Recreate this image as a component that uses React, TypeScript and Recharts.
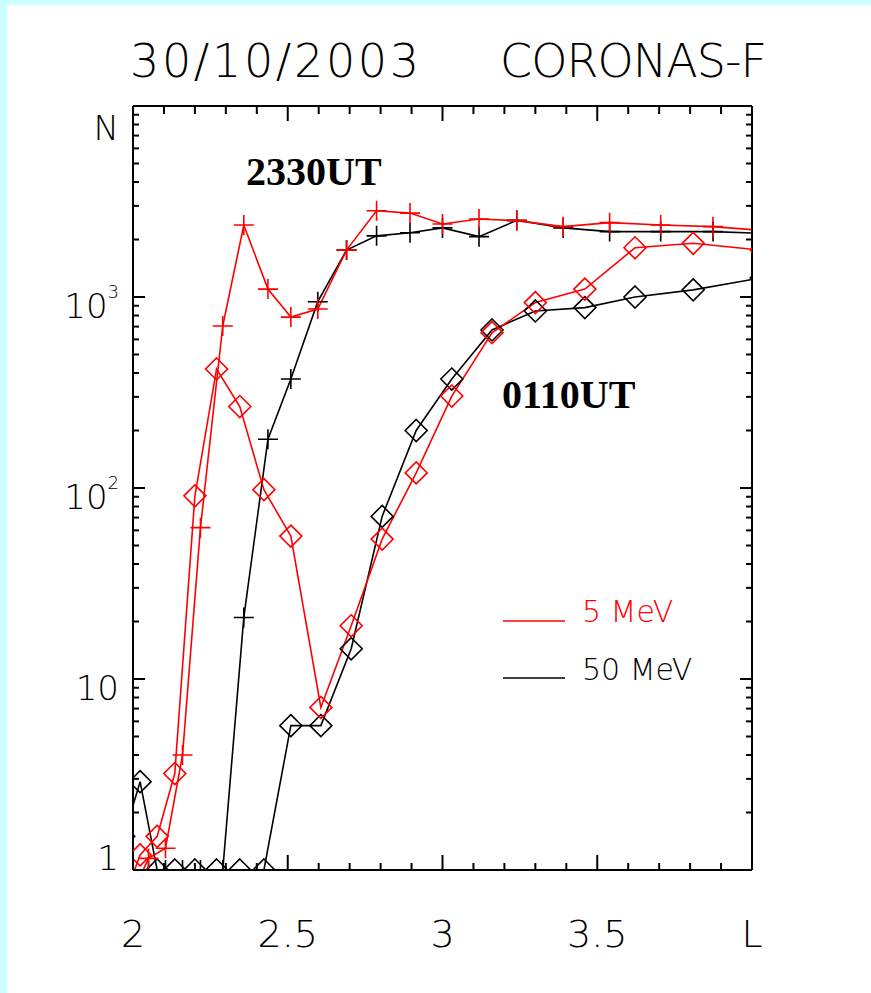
import React from "react";
import { LineChart, Line, XAxis, YAxis } from "recharts";

// L-shell bins for the two passes (plus = 2330UT, diamond = 0110UT)
const PLUS_L = [1.99, 2.05, 2.105, 2.16, 2.218, 2.29, 2.358, 2.436, 2.51, 2.597, 2.69, 2.787, 2.895, 3.0, 3.118, 3.24, 3.39, 3.54, 3.705, 3.874, 4.05];
const DIAMOND_L = [1.97, 2.023, 2.078, 2.135, 2.2, 2.27, 2.345, 2.423, 2.51, 2.607, 2.705, 2.805, 2.915, 3.03, 3.16, 3.3, 3.46, 3.622, 3.81, 4.03];

// counts N (values <= 1 sit on the bottom frame)
const N_5MEV_2330 = [0.7, 1.15, 1.3, 4.0, 62, 705, 2380, 1100, 785, 865, 1760, 2830, 2750, 2410, 2560, 2510, 2335, 2450, 2380, 2335, 2220];
const N_50MEV_2330 = [1, 1, 1, 1, 1, 1, 21, 180, 372, 945, 1760, 2090, 2170, 2300, 2070, 2520, 2300, 2200, 2200, 2200, 2150];
const N_5MEV_0110 = [0.7, 1.2, 1.5, 3.2, 91, 420, 267, 98, 56, 7.1, 19, 54, 120, 303, 650, 935, 1100, 1810, 1910, 1760];
const N_50MEV_0110 = [1.5, 2.9, 1, 1, 1, 1, 1, 1, 5.7, 5.7, 14.4, 71, 200, 372, 672, 845, 880, 1000, 1090, 1260];

const X_TICKS = [2.0, 2.1, 2.2, 2.3, 2.4, 2.5, 2.6, 2.7, 2.8, 2.9, 3.0, 3.1, 3.2, 3.3, 3.4, 3.5, 3.6, 3.7, 3.8, 3.9, 4.0];
const X_LABELS: Record<string, string> = { "2": "2", "2.5": "2.5", "3": "3", "3.5": "3.5", "4": "L" };
const Y_TICKS = [
  1, 2, 3, 4, 5, 6, 7, 8, 9,
  10, 20, 30, 40, 50, 60, 70, 80, 90,
  100, 200, 300, 400, 500, 600, 700, 800, 900,
  1000, 2000, 3000, 4000, 5000, 6000, 7000, 8000, 9000,
  10000,
];
// [base, superscript]
const Y_LABELS: Record<string, [string, string]> = {
  "1": ["1", ""],
  "10": ["10", ""],
  "100": ["10", "2"],
  "1000": ["10", "3"],
  "10000": ["N", ""],
};

const LEGEND = [
  { label: "5 MeV", color: "#ff0000" },
  { label: "50 MeV", color: "#000000" },
];

const RED = "#ff0000";
const BLACK = "#000000";
const THIN = "'DejaVu Sans', 'Liberation Sans', sans-serif";

const zip = (xs: number[], ys: number[]) => xs.map((L, i) => ({ L, N: ys[i] }));

const plusDot = (color: string) => (p: any) => {
  const { cx, cy, index } = p;
  if (cx == null || cy == null || !isFinite(cx) || !isFinite(cy)) return <g key={`p${index}`} />;
  return (
    <path
      key={`p${index}`}
      d={`M${cx - 10},${cy}H${cx + 10}M${cx},${cy - 10}V${cy + 10}`}
      stroke={color}
      strokeWidth={1.6}
      fill="none"
    />
  );
};

const diamondDot = (color: string) => (p: any) => {
  const { cx, cy, index } = p;
  if (cx == null || cy == null || !isFinite(cx) || !isFinite(cy)) return <g key={`d${index}`} />;
  return (
    <path
      key={`d${index}`}
      d={`M${cx},${cy - 11}L${cx + 11},${cy}L${cx},${cy + 11}L${cx - 11},${cy}Z`}
      stroke={color}
      strokeWidth={1.6}
      fill="none"
    />
  );
};

const isMajorX = (v: number) => Math.abs(v * 2 - Math.round(v * 2)) < 1e-6;
const isMajorY = (v: number) => Math.abs(Math.log10(v) - Math.round(Math.log10(v))) < 1e-6;

const BottomTick = (p: any) => {
  const { x, y, payload } = p;
  const v = payload.value;
  const major = isMajorX(v);
  const lab = X_LABELS[String(Math.round(v * 10) / 10)];
  return (
    <g>
      <line x1={x} x2={x} y1={y} y2={y - (major ? 15 : 7)} stroke={BLACK} strokeWidth={2} />
      {major && lab && (
        <text x={x} y={y + 77} textAnchor="middle" fontSize={38} fontFamily={THIN} fontWeight={200} fill={BLACK}>
          {lab}
        </text>
      )}
    </g>
  );
};

const TopTick = (p: any) => {
  const { x, y, payload } = p;
  const major = isMajorX(payload.value);
  return <line x1={x} x2={x} y1={y} y2={y + (major ? 15 : 8)} stroke={BLACK} strokeWidth={2} />;
};

const LeftTick = (p: any) => {
  const { x, y, payload } = p;
  const v = payload.value;
  const major = isMajorY(v);
  const lab = Y_LABELS[String(v)];
  const dy = v === 1 ? 0 : v === 10000 ? 34 : 21;
  return (
    <g>
      <line x1={x} x2={x + (major ? 12 : 6)} y1={y} y2={y} stroke={BLACK} strokeWidth={2} />
      {major && lab && (
        <text x={x - 14} y={y + dy} textAnchor="end" fontSize={34} fontFamily={THIN} fontWeight={200} fill={BLACK}>
          {lab[0]}
          {lab[1] && (
            <tspan dy={-20} fontSize={18}>
              {lab[1]}
            </tspan>
          )}
        </text>
      )}
    </g>
  );
};

const RightTick = (p: any) => {
  const { x, y, payload } = p;
  const major = isMajorY(payload.value);
  return <line x1={x} x2={x - (major ? 12 : 6)} y1={y} y2={y} stroke={BLACK} strokeWidth={2} />;
};

export default function App() {
  const frame = { stroke: BLACK, strokeWidth: 2 };
  return (
    <div style={{ position: "absolute", left: 0, top: 0, width: 871, height: 993, background: "#ffffff", overflow: "hidden" }}>
      <div style={{ position: "absolute", left: 0, top: 0, width: 871, height: 5, background: "#ccffff" }} />
      <div style={{ position: "absolute", left: 0, top: 0, width: 7, height: 993, background: "#ccffff" }} />
      <div style={{ position: "absolute", left: 0, top: 0 }}>
        <LineChart width={871} height={993} margin={{ left: 132, top: 105, right: 118, bottom: 122 }}>
          <XAxis
            dataKey="L"
            type="number"
            domain={[2, 4]}
            allowDataOverflow
            ticks={X_TICKS}
            interval={0}
            height={1}
            tickSize={0}
            tickMargin={0}
            tickLine={false}
            axisLine={frame}
            tick={<BottomTick />}
          />
          <XAxis
            xAxisId="top"
            orientation="top"
            dataKey="L"
            type="number"
            domain={[2, 4]}
            allowDataOverflow
            ticks={X_TICKS}
            interval={0}
            height={1}
            tickSize={0}
            tickMargin={0}
            tickLine={false}
            axisLine={frame}
            tick={<TopTick />}
          />
          <YAxis
            type="number"
            scale="log"
            domain={[1, 10000]}
            allowDataOverflow
            ticks={Y_TICKS}
            interval={0}
            width={1}
            tickSize={0}
            tickMargin={0}
            tickLine={false}
            axisLine={frame}
            tick={<LeftTick />}
          />
          <YAxis
            yAxisId="right"
            orientation="right"
            type="number"
            scale="log"
            domain={[1, 10000]}
            allowDataOverflow
            ticks={Y_TICKS}
            interval={0}
            width={1}
            tickSize={0}
            tickMargin={0}
            tickLine={false}
            axisLine={frame}
            tick={<RightTick />}
          />
          <Line data={zip(PLUS_L, N_50MEV_2330)} dataKey="N" stroke={BLACK} strokeWidth={1.6} dot={plusDot(BLACK)} isAnimationActive={false} />
          <Line data={zip(DIAMOND_L, N_50MEV_0110)} dataKey="N" stroke={BLACK} strokeWidth={1.6} dot={diamondDot(BLACK)} isAnimationActive={false} />
          <Line data={zip(PLUS_L, N_5MEV_2330)} dataKey="N" stroke={RED} strokeWidth={1.6} dot={plusDot(RED)} isAnimationActive={false} />
          <Line data={zip(DIAMOND_L, N_5MEV_0110)} dataKey="N" stroke={RED} strokeWidth={1.6} dot={diamondDot(RED)} isAnimationActive={false} />
        </LineChart>
      </div>
      <svg width={871} height={993} style={{ position: "absolute", left: 0, top: 0, pointerEvents: "none" }}>
        <text x={130} y={77} fontSize={46} fontFamily={THIN} fontWeight={200} fill={BLACK} textLength={289} lengthAdjust="spacing">
          30/10/2003
        </text>
        <text x={500} y={77} fontSize={46} fontFamily={THIN} fontWeight={200} fill={BLACK} textLength={267} lengthAdjust="spacing">
          CORONAS-F
        </text>
        <text x={246} y={185} fontSize={40} fontFamily="'Liberation Serif', 'Times New Roman', serif" fontWeight={700} fill={BLACK}>
          2330UT
        </text>
        <text x={502} y={408} fontSize={40} fontFamily="'Liberation Serif', 'Times New Roman', serif" fontWeight={700} fill={BLACK}>
          0110UT
        </text>
        {LEGEND.map((it, i) => (
          <g key={it.label}>
            <line x1={503} x2={565} y1={621 + i * 57} y2={621 + i * 57} stroke={it.color} strokeWidth={1.6} />
            <text x={582} y={622 + i * 58} fontSize={30} fontFamily={THIN} fontWeight={200} fill={it.color}>
              {it.label}
            </text>
          </g>
        ))}
      </svg>
    </div>
  );
}
